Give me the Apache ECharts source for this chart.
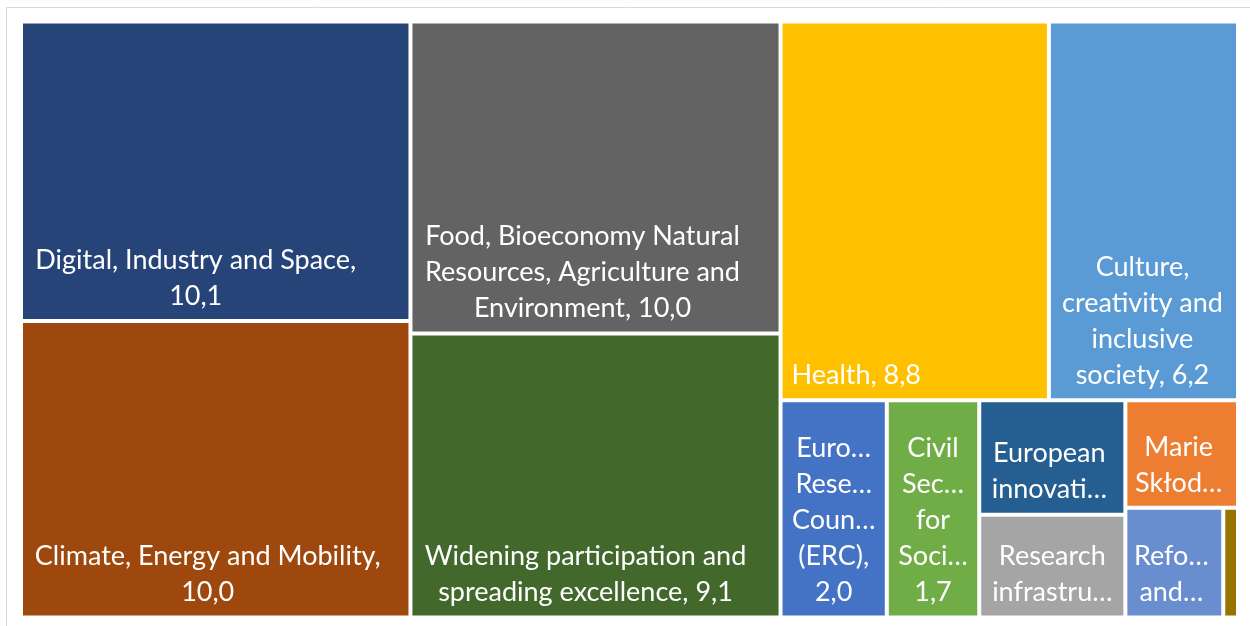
<!DOCTYPE html>
<html>
<head>
<meta charset="utf-8">
<script src="https://cdn.jsdelivr.net/npm/echarts@6/dist/echarts.min.js"></script>
<style>
html,body{margin:0;padding:0;background:#ffffff;}
#c{width:1250px;height:626px;}
</style>
</head>
<body>
<div id="c"></div>
<script>
const names = [
  'Digital, Industry and Space',
  'Climate, Energy and Mobility',
  'Food, Bioeconomy Natural Resources, Agriculture and Environment',
  'Widening participation and spreading excellence',
  'Health',
  'Culture, creativity and inclusive society',
  'European Research Council (ERC)',
  'Civil Security for Society',
  'European innovation ecosystems',
  'Research infrastructures',
  'Marie Skłodowska-Curie Actions',
  'Reforming and enhancing the European R&I system',
  'Joint Research Centre'
];
const values = [10.1, 10.0, 10.0, 9.1, 8.8, 6.2, 2.0, 1.74, 1.45, 1.3, 1.05, 0.93, 0.14];
const colors = ['#264478', '#9E480E', '#636363', '#43682B', '#FFC000', '#5B9BD5',
  '#4472C4', '#70AD47', '#255E91', '#A5A5A5', '#ED7D31', '#698ED0', '#997300'];
// label text as displayed in the reference (%v = value)
const labelTexts = [
  'Digital, Industry and Space,\n%v',
  'Climate, Energy and Mobility,\n%v',
  'Food, Bioeconomy Natural\nResources, Agriculture and\nEnvironment, %v',
  'Widening participation and\nspreading excellence, %v',
  'Health, %v',
  'Culture,\ncreativity and\ninclusive\nsociety, %v',
  'Euro…\nRese…\nCoun…\n(ERC),\n%v',
  'Civil\nSec…\nfor\nSoci…\n%v',
  'European\ninnovati…',
  'Research\ninfrastru…',
  'Marie\nSkłod…',
  'Refo…\nand…',
  ''
];
// grouping of item indices (reproduces the reference tile arrangement)
const nesting = [0, 1, 2, 3, 4, 5, [6, [7, [[8, 9], [10, [11, 12]]]]]];
// horizontal label nudges (px), styling only
const labelNudge = { 0: -20, 1: -8, 2: -13, 3: -10, 5: -1, 8: -3, 10: -3, 11: -3 };

function fmt(v) { return v.toFixed(1).replace('.', ','); }

function build(n) {
  if (Array.isArray(n)) {
    const ch = n.map(build);
    return { name: '', value: ch.reduce((s, c) => s + c.value, 0), children: ch };
  }
  const multi = labelTexts[n].indexOf('\n') >= 0;
  const lbl = multi
    ? { position: 'insideBottom', padding: [0, 4, 5, 4] }
    : { position: 'insideBottomLeft', padding: [0, 4, 5, 9] };
  lbl.offset = [labelNudge[n] || 0, 0];
  return {
    name: names[n],
    value: values[n],
    itemStyle: { color: colors[n] },
    label: lbl
  };
}
const treeData = nesting.map(build);

const chart = echarts.init(document.getElementById('c'), null, { renderer: 'canvas' });
chart.setOption({
  animation: false,
  backgroundColor: '#ffffff',
  graphic: [{
    type: 'rect', silent: true, z: 0,
    shape: { x: 6.5, y: 7.5, width: 1300, height: 700 },
    style: { fill: 'none', stroke: '#d9d9d9', lineWidth: 1 }
  }],
  series: [{
    type: 'treemap',
    left: 23, top: 23.5, width: 1213, height: 592,
    roam: false,
    nodeClick: false,
    breadcrumb: { show: false },
    sort: false,
    squareRatio: 1.2,
    visibleMin: 0,
    itemStyle: { borderWidth: 0, gapWidth: 4, borderColor: '#ffffff' },
    upperLabel: { show: false },
    label: {
      show: true,
      color: '#ffffff',
      fontFamily: 'Lato',
      fontSize: 27,
      lineHeight: 36,
      distance: 0,
      overflow: 'truncate',
      formatter: function (p) {
        const i = names.indexOf(p.name);
        return i < 0 ? '' : labelTexts[i].replace('%v', fmt(values[i]));
      }
    },
    data: treeData
  }]
});
</script>
</body>
</html>
